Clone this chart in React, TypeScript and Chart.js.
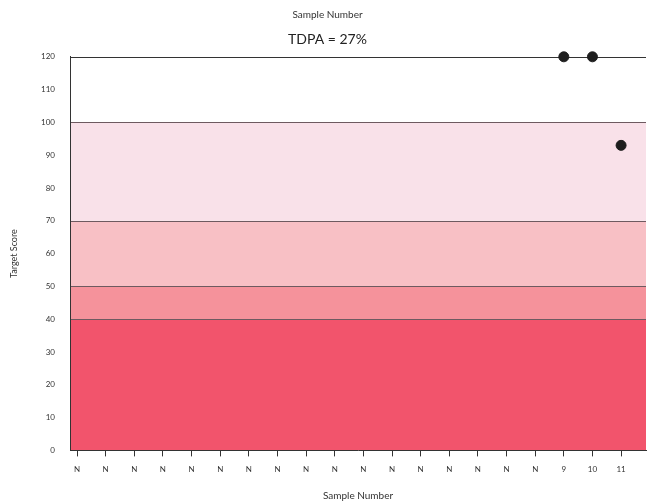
import React, { useEffect, useRef } from "react";
import { Chart, registerables } from "chart.js";

Chart.register(...registerables);

const xLabels = ["N","N","N","N","N","N","N","N","N","N","N","N","N","N","N","N","N","9","10","11"];
const scores: (number | null)[] = [null,null,null,null,null,null,null,null,null,null,null,null,null,null,null,null,null,120,120,93];
const yTicks = [0,10,20,30,40,50,60,70,80,90,100,110,120];
const bandEdges = [0, 40, 50, 70, 100];
const bandTops = [40, 50, 70, 100, 120];
const bandColors = ["#f2546c", "#f5929b", "#f8c0c5", "#f9e1e9", "#ffffff"];
const bandLines = [40, 50, 70, 100, 120];

const FONT = "Lato, 'Open Sans', sans-serif";

const bandPlugin = {
  id: "bands",
  beforeDraw(chart: any) {
    const { ctx, chartArea, scales } = chart;
    const y = scales.y;
    ctx.save();
    bandEdges.forEach((lo, i) => {
      const yTop = y.getPixelForValue(bandTops[i]);
      const yBot = y.getPixelForValue(lo);
      ctx.fillStyle = bandColors[i];
      ctx.fillRect(chartArea.left, yTop, chartArea.right - chartArea.left, yBot - yTop);
    });
    ctx.lineWidth = 1;
    bandLines.forEach((v) => {
      const py = Math.round(y.getPixelForValue(v)) + 0.5;
      ctx.strokeStyle = v === 120 ? "#333333" : "#6e5a60";
      ctx.beginPath();
      ctx.moveTo(chartArea.left, py);
      ctx.lineTo(chartArea.right, py);
      ctx.stroke();
    });
    ctx.restore();
  },
};

export default function App() {
  const ref = useRef<HTMLCanvasElement | null>(null);
  useEffect(() => {
    document.body.style.margin = "0";
    const points = scores
      .map((s, i) => (s === null ? null : { x: i + 1, y: s }))
      .filter((p) => p !== null);
    const chart = new Chart(ref.current!, {
      type: "scatter",
      data: {
        datasets: [
          {
            data: points as any,
            backgroundColor: "#1e1e1e",
            borderColor: "#1e1e1e",
            pointRadius: 5,
            pointHoverRadius: 5,
            clip: false as any,
          },
        ],
      },
      plugins: [bandPlugin],
      options: {
        animation: false,
        responsive: false,
        layout: { padding: { left: 9, right: 8, top: 0, bottom: 2 } },
        plugins: {
          legend: { display: false },
          tooltip: { enabled: false },
          title: {
            display: true,
            text: "Sample Number",
            color: "#333",
            font: { family: FONT, size: 10, weight: "normal" },
            padding: { top: 9, bottom: 4 },
          },
          subtitle: {
            display: true,
            text: "TDPA = 27%",
            color: "#222",
            font: { family: FONT, size: 14, weight: "normal" },
            padding: { top: 6, bottom: 9 },
          },
        },
        scales: {
          x: {
            type: "linear",
            min: 0.755,
            max: 20.87,
            afterBuildTicks: (scale: any) => {
              scale.ticks = xLabels.map((_, i) => ({ value: i + 1 }));
            },
            ticks: {
              autoSkip: false,
              maxRotation: 0,
              color: "#333",
              font: { family: FONT, size: 8 },
              padding: 8,
              callback: (v: any) => xLabels[Number(v) - 1] ?? "",
            },
            grid: { drawOnChartArea: false, tickLength: 6, color: "#333" },
            border: { display: true, color: "#333" },
            title: {
              display: true,
              text: "Sample Number",
              color: "#333",
              font: { family: FONT, size: 10 },
              padding: { top: 8, bottom: 0 },
            },
          },
          y: {
            min: 0,
            max: 120,
            afterBuildTicks: (scale: any) => {
              scale.ticks = yTicks.map((v) => ({ value: v }));
            },
            afterFit: (scale: any) => {
              scale.width = 61;
            },
            ticks: {
              color: "#333",
              font: { family: FONT, size: 8 },
              padding: 15,
            },
            grid: { drawOnChartArea: false, drawTicks: false },
            border: { display: true, color: "#333" },
            title: {
              display: true,
              text: "Target Score",
              color: "#333",
              font: { family: FONT, size: 9 },
              padding: { top: 0, bottom: 0 },
            },
          },
        },
      } as any,
    });
    return () => chart.destroy();
  }, []);
  return (
    <div style={{ width: 654, height: 504 }}>
      <canvas ref={ref} width={654} height={504} />
    </div>
  );
}
